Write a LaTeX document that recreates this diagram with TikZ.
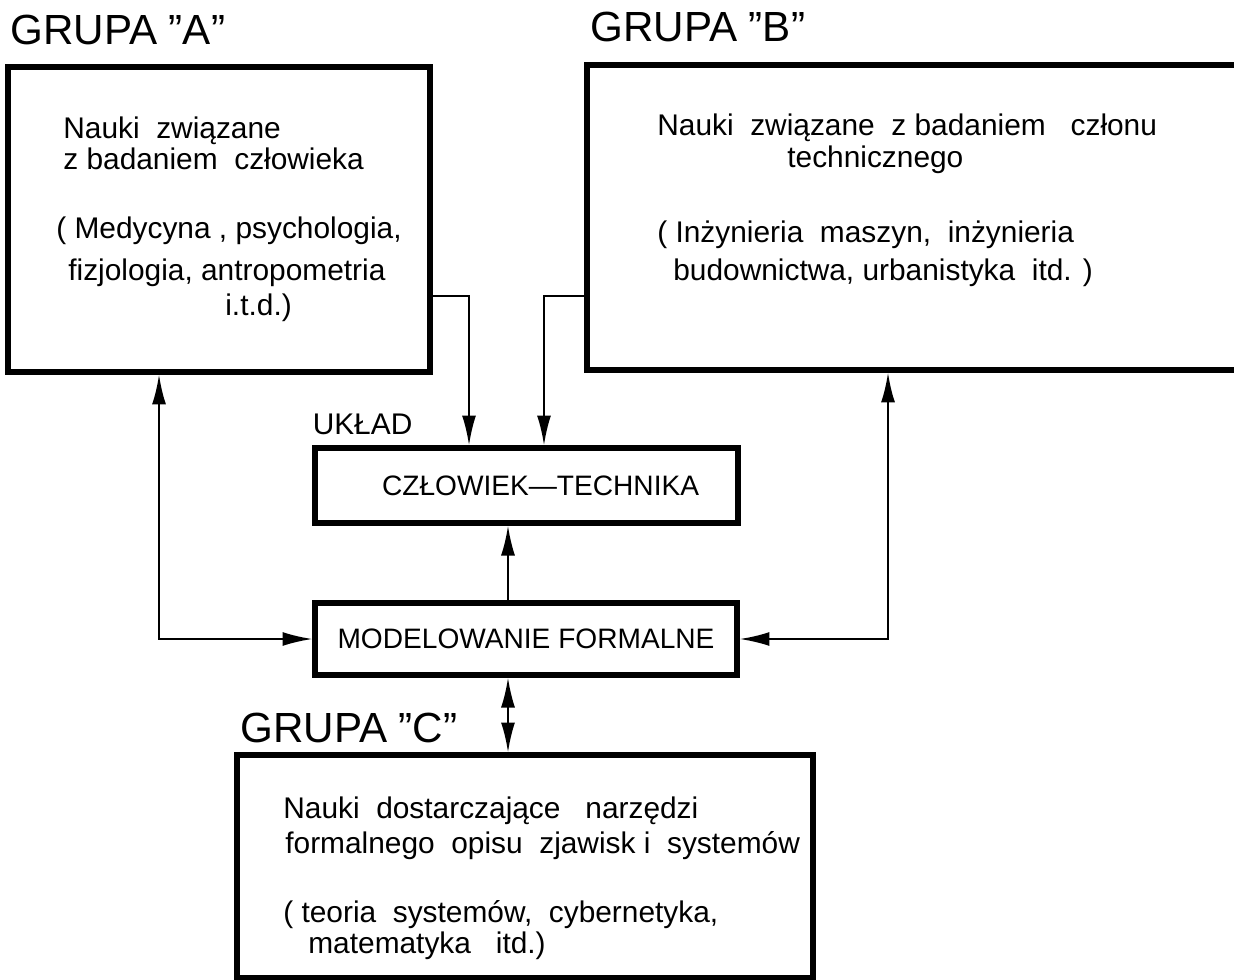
\documentclass[tikz,border=0pt]{standalone}
\usepackage{fontspec}
\setmainfont{Liberation Sans}
\usetikzlibrary{arrows.meta,positioning}

\begin{document}
\begin{tikzpicture}[x=0.02cm, y=-0.02cm, >={Latex[length=17pt,width=8pt]},
  box/.style={draw, line width=3pt, inner sep=0pt},
  conn/.style={line width=1.3pt},
  txt/.style={anchor=base west, inner sep=0pt, font=\fontsize{17}{20}\selectfont},
  head/.style={anchor=base west, inner sep=0pt, font=\fontsize{24}{28}\selectfont}]
\useasboundingbox (0,0) rectangle (1234,980);
\clip (0,0) rectangle (1234,980);

% boxes
\node[box, minimum width=8.44cm, minimum height=6.1cm] (grA) at (219,219.5) {};
\node[box, minimum width=13.46cm, minimum height=6.1cm] (grB) at (923.5,217.5) {};
\node[box, minimum width=8.46cm, minimum height=1.5cm, font=\fontsize{16}{19}\selectfont] (ct) at (526.5,485.5) {\hspace*{16pt}CZŁOWIEK---TECHNIKA};
\node[box, minimum width=8.44cm, minimum height=1.44cm, font=\fontsize{16}{19}\selectfont] (mf) at (526,639) {MODELOWANIE\ FORMALNE};
\node[box, minimum width=11.52cm, minimum height=4.46cm] (grC) at (525,866.5) {};

% labels
\node[head] (hA) at (10,45) {GRUPA ''A''};
\node[head] (hB) at (590,42) {GRUPA ''B''};
\node[head] (hC) at (240,742) {GRUPA ''C''};
\node[txt, anchor=south west, above right=6pt and 0pt of ct.north west] (ukl) {UKŁAD};

\node[txt] (a1) at (63,138) {Nauki\ \ związane};
\node[txt] (a2) at (63,170) {z badaniem\ \ człowieka};
\node[txt] (a3) at (56,238) {( Medycyna , psychologia,};
\node[txt] (a4) at (68,280) {fizjologia, antropometria};
\node[txt] (a5) at (225,315) {i.t.d.)};

\node[txt] (b1) at (657,135) {Nauki\ \ związane\ \ z badaniem\ \ \ członu};
\node[txt] (b2) at (787,168) {technicznego};
\node[txt] (b3) at (657,242) {( Inżynieria\ \ maszyn,\ \ inżynieria};
\node[txt] (b4) at (673,280) {budownictwa, urbanistyka\ \ itd. )};

\node[txt] (c1) at (283,818) {Nauki\ \ dostarczające\ \ \ narzędzi};
\node[txt] (c2) at (285,853) {formalnego\ \ opisu\ \ zjawisk i\ \ systemów};
\node[txt] (c3) at (283,922) {( teoria\ \ systemów,\ \ cybernetyka,};
\node[txt] (c4) at (308,953) {matematyka\ \ \ itd.)};

% connectors
\draw[conn,->] (grA.east |- 0,296) -| ([xshift=-1.15cm]ct.north);
\draw[conn,->] (grB.west |- 0,296) -| ([xshift=0.35cm]ct.north);
\draw[conn,->] ([xshift=-0.36cm]mf.north) -- ([xshift=-0.36cm]mf.north |- ct.south);
\draw[conn,<->] ([xshift=-1.2cm]grA.south) |- (mf.west);
\draw[conn,<->] ([xshift=-0.71cm]grB.south) |- (mf.east);
\draw[conn,<->] ([xshift=-0.36cm]mf.south) -- ([xshift=-0.36cm]mf.south |- grC.north);
\end{tikzpicture}
\end{document}
